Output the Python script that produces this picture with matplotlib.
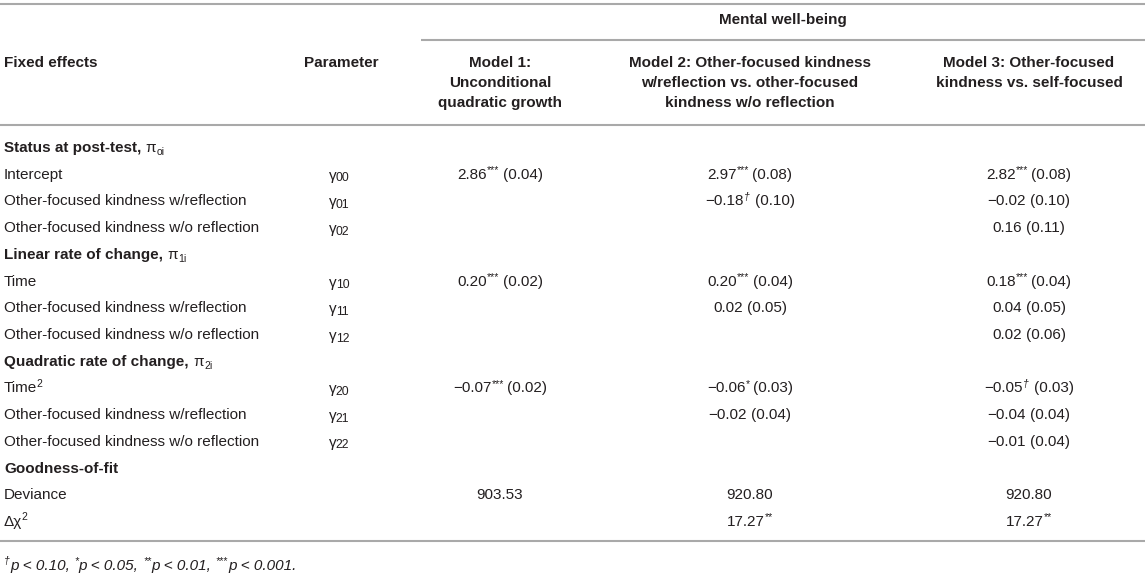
import matplotlib
matplotlib.use("Agg")
import matplotlib.pyplot as plt

FONT = "Liberation Sans"
INK = "#231f20"
RULE = "#a9a9a9"
FS = 11.0

# table content
row_labels = ["Status at post-test, ", "Intercept", "Other-focused kindness w/reflection",
              "Other-focused kindness w/o reflection", "Linear rate of change, ", "Time",
              "Other-focused kindness w/reflection", "Other-focused kindness w/o reflection",
              "Quadratic rate of change, ", "Time", "Other-focused kindness w/reflection",
              "Other-focused kindness w/o reflection", "Goodness-of-fit", "Deviance", "Δχ"]
row_label_sub = ["oi", "", "", "", "1i", "", "", "", "2i", "", "", "", "", "", ""]
row_label_sup = ["", "", "", "", "", "", "", "", "", "2", "", "", "", "", "2"]
row_is_section = [True, False, False, False, True, False, False, False,
                  True, False, False, False, True, False, False]
params = ["", "00", "01", "02", "", "10", "11", "12", "", "20", "21", "22", "", "", ""]

model1_est = ["", "2.86", "", "", "", "0.20", "", "", "", "−0.07", "", "", "", "903.53", ""]
model1_sig = ["", "***", "", "", "", "***", "", "", "", "***", "", "", "", "", ""]
model1_se = ["", "0.04", "", "", "", "0.02", "", "", "", "0.02", "", "", "", "", ""]

model2_est = ["", "2.97", "−0.18", "", "", "0.20", "0.02", "", "", "−0.06", "−0.02", "", "", "920.80", "17.27"]
model2_sig = ["", "***", "†", "", "", "***", "", "", "", "*", "", "", "", "", "**"]
model2_se = ["", "0.08", "0.10", "", "", "0.04", "0.05", "", "", "0.03", "0.04", "", "", "", ""]

model3_est = ["", "2.82", "−0.02", "0.16", "", "0.18", "0.04", "0.02", "", "−0.05", "−0.04", "−0.01", "", "920.80", "17.27"]
model3_sig = ["", "***", "", "", "", "***", "", "", "", "†", "", "", "", "", "**"]
model3_se = ["", "0.08", "0.10", "0.11", "", "0.04", "0.05", "0.06", "", "0.03", "0.04", "0.04", "", "", ""]

header_group = "Mental well-being"
header_fixed = "Fixed effects"
header_param = "Parameter"
model_titles = [["Model 1:", "Unconditional", "quadratic growth"],
                ["Model 2: Other-focused kindness", "w/reflection vs. other-focused",
                 "kindness w/o reflection"],
                ["Model 3: Other-focused", "kindness vs. self-focused"]]

footnote = [("†", "sup", 0.5), ("p < 0.10, ", "n"), ("*", "sup", 0.5), ("p < 0.05, ", "n"),
            ("**", "sup", 0.5), ("p < 0.01, ", "n"), ("***", "sup", 0.5), ("p < 0.001.", "n")]

# layout (pixels)
W, H = 1145, 576
X_LABEL = 4
X_PARAM = 329
X_PARAM_HEAD = 341
X_MODELS = [500, 750, 1029]
X_GROUP = 421
ROW0, ROW_STEP = 147, 26.72
BASE = 5  # baseline offset below row centre


def rich(ax, x, y, pieces, ha="left", size=FS, weight="normal", style="normal"):
    renderer = ax.figure.canvas.get_renderer()
    arts, gaps = [], []
    px = size * 100 / 72
    for txt, mode, *extra in pieces:
        gap = extra[0] if extra else 0
        st = extra[1] if len(extra) > 1 else style
        wt = extra[2] if len(extra) > 2 else weight
        scale = {"n": 1, "sup": 0.68, "sub": 0.68, "low": 0.8}[mode]
        dy = {"n": 0, "sup": -0.38 * px, "sub": 0.22 * px, "low": 0.1 * px}[mode]
        t = ax.text(0, y + dy, txt, fontsize=size * scale, family=FONT, color=INK,
                    fontweight=wt, fontstyle=st, va="baseline", ha="left")
        arts.append(t)
        gaps.append(gap)
    widths = [t.get_window_extent(renderer).width for t in arts]
    total = sum(widths) + sum(gaps[:-1])
    cur = x - total / 2 if ha == "center" else x
    for t, w, g in zip(arts, widths, gaps):
        t.set_x(cur)
        cur += w + g


def value_pieces(est, sig, se):
    if not est:
        return []
    pieces = [(est, "n", 0.0 if sig else 4.2)]
    if sig == "†":
        pieces.append(("†", "sup", 5.0, "italic"))
    elif sig:
        pieces.append((sig, "sup", 3.0))
    if se:
        pieces.append(("(" + se + ")", "n"))
    return pieces


def main():
    fig = plt.figure(figsize=(W / 100, H / 100), dpi=100)
    ax = fig.add_axes([0, 0, 1, 1])
    ax.set_xlim(0, W)
    ax.set_ylim(H, 0)
    ax.axis("off")
    fig.canvas.draw()

    # rules
    for x0, yy in [(0, 4), (X_GROUP, 40), (0, 125), (0, 541)]:
        ax.plot([x0, W], [yy, yy], color=RULE, lw=1.5, solid_capstyle="butt")

    # header
    rich(ax, (X_GROUP + W) / 2, 19 + BASE, [(header_group, "n")], ha="center", weight="bold")
    rich(ax, X_LABEL, 62 + BASE, [(header_fixed, "n")], weight="bold")
    rich(ax, X_PARAM_HEAD, 62 + BASE, [(header_param, "n")], ha="center", weight="bold")
    for xm, lines in zip(X_MODELS, model_titles):
        for k, line in enumerate(lines):
            rich(ax, xm, 62 + 20 * k + BASE, [(line, "n")], ha="center", weight="bold")

    models = [(model1_est, model1_sig, model1_se),
              (model2_est, model2_sig, model2_se),
              (model3_est, model3_sig, model3_se)]

    for i, label in enumerate(row_labels):
        yb = ROW0 + ROW_STEP * i + BASE
        wt = "bold" if row_is_section[i] else "normal"
        pieces = [(label, "n")]
        if row_label_sub[i]:
            pieces = [(label, "n", 0, "normal", wt), ("π", "n", 0.5, "normal", "normal"),
                      (row_label_sub[i], "sub", 0, "normal", "normal")]
        if row_label_sup[i]:
            pieces = [(label, "n", -0.5), (row_label_sup[i], "sup")]
        rich(ax, X_LABEL, yb, pieces, weight=wt)
        if params[i]:
            rich(ax, X_PARAM, yb + 1, [("γ", "n", -0.8), (params[i], "low")])
        for xm, (est, sig, se) in zip(X_MODELS, models):
            vp = value_pieces(est[i], sig[i], se[i])
            if vp:
                rich(ax, xm, yb, vp, ha="center")

    rich(ax, X_LABEL, 565 + BASE, footnote, style="italic")

    fig.savefig("out.png", dpi=100)


if __name__ == "__main__":
    main()
